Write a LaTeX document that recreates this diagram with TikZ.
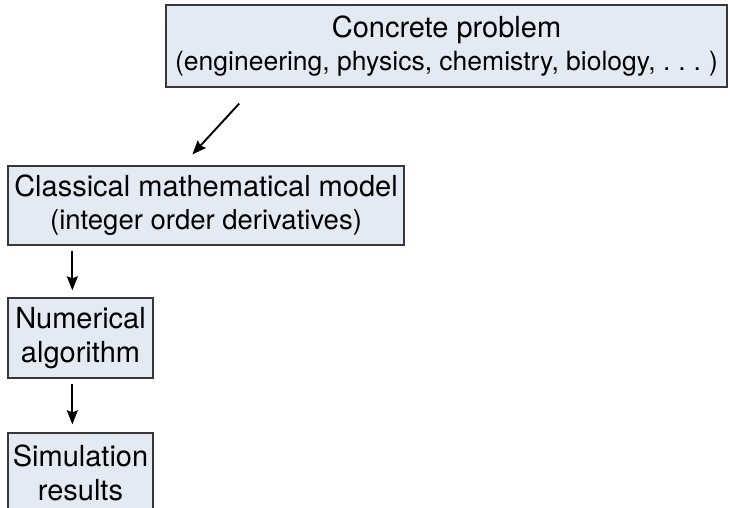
\documentclass[tikz,border=0pt]{standalone}
\usepackage{fontspec}
\setmainfont{TeX Gyre Heros}
\usetikzlibrary{arrows.meta}
\definecolor{boxfill}{RGB}{228,234,243}
\definecolor{boxline}{RGB}{55,55,55}

\begin{document}
\begin{tikzpicture}[x=1pt, y=1pt,
		box/.style={draw=boxline, line width=1.3pt, fill=boxfill, align=center, inner sep=0pt, font=\fontsize{29}{34}\selectfont},
		flow/.style={-{Stealth[length=14pt,width=11pt,inset=2pt]}, line width=1.9pt}]
			\useasboundingbox (0,0) rectangle (730,507);
			
			\node[box, minimum width=561pt, minimum height=82pt] (problem) at (446.5,461) {Concrete problem\\[-1pt]{\fontsize{26.5}{34}\selectfont (engineering, physics, chemistry, biology, .\hspace{0.3em}.\hspace{0.3em}.\hspace{0.3em})}};
			\node[box, minimum width=396pt, minimum height=79pt] (model) at (206,301.5) {Classical mathematical model\\[-1pt]{\fontsize{27.5}{34}\selectfont (integer order derivatives)}};
			\node[box, minimum width=145pt, minimum height=80pt] (algo) at (80.5,169) {Numerical\\algorithm};
			\node[box, minimum width=145pt, minimum height=80pt] (sim) at (80.5,34) {Simulation\\results};
			
			\draw[flow, shorten <=21.6pt, shorten >=14.8pt] ([xshift=88.5pt]problem.south west) -- ([xshift=175pt]model.north west);
			\draw[flow, shorten <=5pt, shorten >=7pt] ([xshift=65pt]model.south west) -- ([xshift=65pt]algo.north west);
			\draw[flow, shorten <=5pt, shorten >=8pt] ([xshift=65pt]algo.south west) -- ([xshift=65pt]sim.north west);
		\end{tikzpicture}
\end{document}
